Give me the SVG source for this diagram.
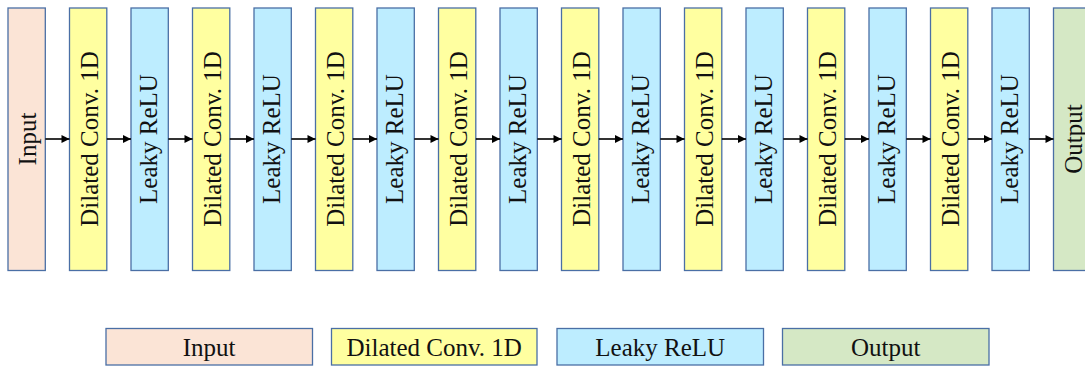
<svg xmlns="http://www.w3.org/2000/svg" width="1085" height="368" viewBox="0 0 1085 368">
  <style>
    .box { stroke: #4A6FA5; stroke-width: 1.3; }
    .in { fill: #FBE4D6; }
    .conv { fill: #FFFFA0; }
    .relu { fill: #BDEDFF; }
    .out { fill: #D5E8C5; }
    .lbl { font-family: "Liberation Serif", "Times New Roman", serif; font-size: 25px; fill: #111; text-anchor: middle; }
    .wire { stroke: #000; stroke-width: 1.6; fill: none; marker-end: url(#arr); }
  </style>
  <defs>
    <marker id="arr" viewBox="0 0 10 10" refX="10" refY="5" markerUnits="userSpaceOnUse" markerWidth="9" markerHeight="8" orient="auto">
      <path d="M0,0 L10,5 L0,10 Z" fill="#000"/>
    </marker>
  </defs>

  <!-- pipeline blocks: x = 8 + 61.5*i, width 37.3 -->
  <g id="n0"><rect class="box in" x="8" y="8" width="37.3" height="262.5"/><text class="lbl" transform="translate(36.2,139) rotate(-90)">Input</text></g>
  <g id="n1"><rect class="box conv" x="69.5" y="8" width="37.3" height="262.5"/><text class="lbl" transform="translate(97.7,139) rotate(-90)">Dilated Conv. 1D</text></g>
  <g id="n2"><rect class="box relu" x="131" y="8" width="37.3" height="262.5"/><text class="lbl" transform="translate(156.7,139) rotate(-90)">Leaky ReLU</text></g>
  <g id="n3"><rect class="box conv" x="192.5" y="8" width="37.3" height="262.5"/><text class="lbl" transform="translate(220.7,139) rotate(-90)">Dilated Conv. 1D</text></g>
  <g id="n4"><rect class="box relu" x="254" y="8" width="37.3" height="262.5"/><text class="lbl" transform="translate(279.7,139) rotate(-90)">Leaky ReLU</text></g>
  <g id="n5"><rect class="box conv" x="315.5" y="8" width="37.3" height="262.5"/><text class="lbl" transform="translate(343.7,139) rotate(-90)">Dilated Conv. 1D</text></g>
  <g id="n6"><rect class="box relu" x="377" y="8" width="37.3" height="262.5"/><text class="lbl" transform="translate(402.7,139) rotate(-90)">Leaky ReLU</text></g>
  <g id="n7"><rect class="box conv" x="438.5" y="8" width="37.3" height="262.5"/><text class="lbl" transform="translate(466.7,139) rotate(-90)">Dilated Conv. 1D</text></g>
  <g id="n8"><rect class="box relu" x="500" y="8" width="37.3" height="262.5"/><text class="lbl" transform="translate(525.7,139) rotate(-90)">Leaky ReLU</text></g>
  <g id="n9"><rect class="box conv" x="561.5" y="8" width="37.3" height="262.5"/><text class="lbl" transform="translate(589.7,139) rotate(-90)">Dilated Conv. 1D</text></g>
  <g id="n10"><rect class="box relu" x="623" y="8" width="37.3" height="262.5"/><text class="lbl" transform="translate(648.7,139) rotate(-90)">Leaky ReLU</text></g>
  <g id="n11"><rect class="box conv" x="684.5" y="8" width="37.3" height="262.5"/><text class="lbl" transform="translate(712.7,139) rotate(-90)">Dilated Conv. 1D</text></g>
  <g id="n12"><rect class="box relu" x="746" y="8" width="37.3" height="262.5"/><text class="lbl" transform="translate(771.7,139) rotate(-90)">Leaky ReLU</text></g>
  <g id="n13"><rect class="box conv" x="807.5" y="8" width="37.3" height="262.5"/><text class="lbl" transform="translate(835.7,139) rotate(-90)">Dilated Conv. 1D</text></g>
  <g id="n14"><rect class="box relu" x="869" y="8" width="37.3" height="262.5"/><text class="lbl" transform="translate(894.7,139) rotate(-90)">Leaky ReLU</text></g>
  <g id="n15"><rect class="box conv" x="930.5" y="8" width="37.3" height="262.5"/><text class="lbl" transform="translate(958.7,139) rotate(-90)">Dilated Conv. 1D</text></g>
  <g id="n16"><rect class="box relu" x="992" y="8" width="37.3" height="262.5"/><text class="lbl" transform="translate(1017.7,139) rotate(-90)">Leaky ReLU</text></g>
  <g id="n17"><rect class="box out" x="1053.5" y="8" width="37.3" height="262.5"/><text class="lbl" transform="translate(1081.7,139) rotate(-90)">Output</text></g>

  <!-- arrows between consecutive blocks -->
  <g id="connectors">
    <path class="wire" d="M45.3,139 H69.5"/>
    <path class="wire" d="M106.8,139 H131"/>
    <path class="wire" d="M168.3,139 H192.5"/>
    <path class="wire" d="M229.8,139 H254"/>
    <path class="wire" d="M291.3,139 H315.5"/>
    <path class="wire" d="M352.8,139 H377"/>
    <path class="wire" d="M414.3,139 H438.5"/>
    <path class="wire" d="M475.8,139 H500"/>
    <path class="wire" d="M537.3,139 H561.5"/>
    <path class="wire" d="M598.8,139 H623"/>
    <path class="wire" d="M660.3,139 H684.5"/>
    <path class="wire" d="M721.8,139 H746"/>
    <path class="wire" d="M783.3,139 H807.5"/>
    <path class="wire" d="M844.8,139 H869"/>
    <path class="wire" d="M906.3,139 H930.5"/>
    <path class="wire" d="M967.8,139 H992"/>
    <path class="wire" d="M1029.3,139 H1053.5"/>
  </g>

  <!-- legend -->
  <g id="legend-input"><rect class="box in" x="106" y="328.5" width="206.5" height="36.5"/><text class="lbl" x="209.2" y="356">Input</text></g>
  <g id="legend-conv"><rect class="box conv" x="331.5" y="328.5" width="205.5" height="36.5"/><text class="lbl" x="434.2" y="356">Dilated Conv. 1D</text></g>
  <g id="legend-relu"><rect class="box relu" x="557" y="328.5" width="206.5" height="36.5"/><text class="lbl" x="660.2" y="356">Leaky ReLU</text></g>
  <g id="legend-output"><rect class="box out" x="782.5" y="328.5" width="206.5" height="36.5"/><text class="lbl" x="885.7" y="356">Output</text></g>
</svg>
